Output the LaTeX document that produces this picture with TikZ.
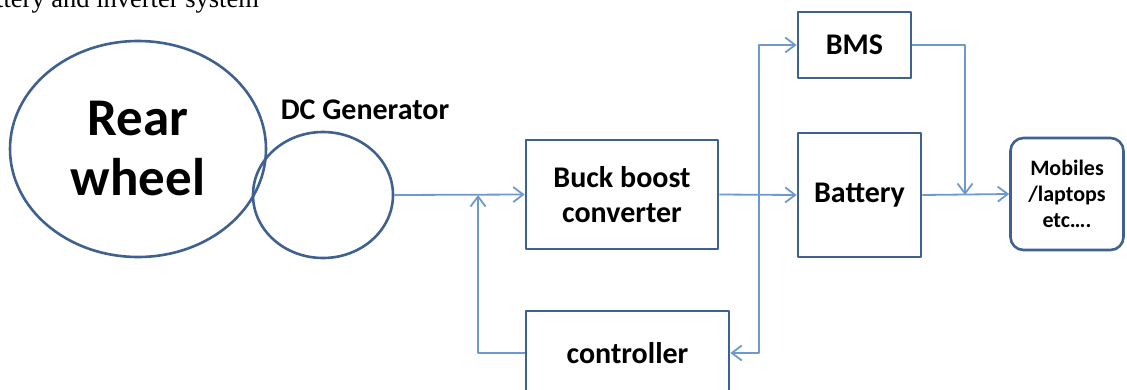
\documentclass[tikz,border=0pt]{standalone}
\usepackage{fontspec}
\setmainfont{Carlito}
\newfontfamily\capfont{Liberation Serif}
\usetikzlibrary{shapes.geometric,arrows.meta}
\definecolor{boxblue}{RGB}{62,97,143}
\definecolor{lineblue}{RGB}{110,152,206}

\begin{document}
\begin{tikzpicture}[x=1pt,y=-1pt,line join=round]
    \tikzstyle{block}=[draw=boxblue,line width=2.6pt,rectangle,align=center,font=\bfseries\fontsize{30}{35}\selectfont]
    \tikzstyle{wheelnode}=[draw=boxblue,line width=2.6pt,ellipse,inner sep=0pt]
    \tikzstyle{flow}=[draw=lineblue,line width=1.8pt,-{Straight Barb[length=10pt,width=15pt]}]
    \useasboundingbox (0,0) rectangle (1127,389);
    \clip (0,0) rectangle (1127,389);
    % Caption cut off at the top
    \node[anchor=base west,inner sep=0pt,font=\capfont\fontsize{26.5}{30}\selectfont] (cap) at (-4,7) {ttery and inverter system};
    % Draw the wheel and the generator
    \node[wheelnode,minimum width=256,minimum height=216,align=center,font=\bfseries\fontsize{53}{60}\selectfont] (wheel) at (138,149) {Rear\\wheel};
    \node[wheelnode,minimum width=140,minimum height=126] (gen) at (323,195) {};
    \node[font=\bfseries\fontsize{30}{34}\selectfont] (gentext) at (365,110) {DC Generator};
    % Draw the blocks
    \node[block,minimum width=192,minimum height=109] (buck) at (622,194.5) {Buck boost\\converter};
    \node[block,minimum width=203,minimum height=84] (ctrl) at (627.5,353) {controller};
    \node[block,minimum width=113,minimum height=66] (bms) at (854.5,45) {BMS};
    \node[block,minimum width=123,minimum height=124] (bat) at (859.5,195) {Battery};
    \node[block,rounded corners=13pt,minimum width=113,minimum height=112,font=\bfseries\fontsize{22}{26}\selectfont] (load) at (1067,194) {Mobiles\\/laptops\\etc\dots.};
    % Junction points
    \coordinate (fb) at (478,195);
    \coordinate (split) at (759,195);
    \coordinate (merge) at (965,195);
    % connect nodes
    \draw[flow] (gen.east) -- (buck.west);
    \draw[flow] (ctrl.west) -| (fb);
    \draw[flow] (buck.east) -- (bat.west);
    \draw[flow] (split) |- (bms.west);
    \draw[flow] (split) |- (ctrl.east);
    \draw[flow] (bms.east) -| (merge);
    \draw[flow] (bat.east) -- (load.west);
\end{tikzpicture}
\end{document}
